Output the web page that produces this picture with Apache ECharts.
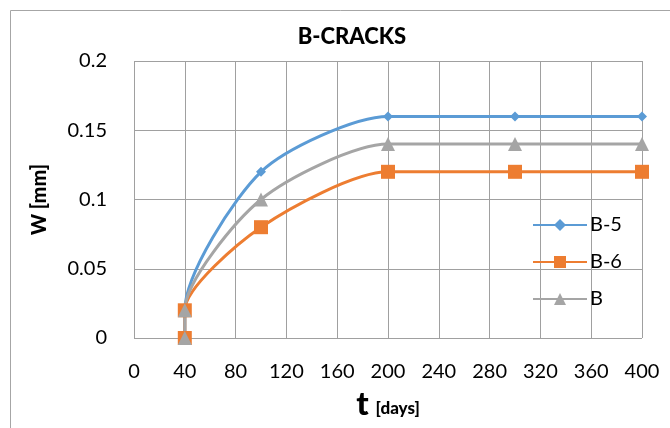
<!DOCTYPE html>
<html><head><meta charset="utf-8">
<script src="https://cdn.jsdelivr.net/npm/echarts@6/dist/echarts.min.js"></script>
<style>html,body{margin:0;padding:0;background:#fff}#c{width:670px;height:428px}</style>
</head><body><div id="c"></div>
<script>
const tDays = [40, 40, 100, 200, 300, 400];
const b5 = [0, 0.02, 0.12, 0.16, 0.16, 0.16];
const b6 = [0, 0.02, 0.08, 0.12, 0.12, 0.12];
const bB = [0, 0.02, 0.10, 0.14, 0.14, 0.14];
const seriesNames = ['B-5', 'B-6', 'B'];
const titleText = 'B-CRACKS';

const font = 'Lato';
const chart = echarts.init(document.getElementById('c'));
function pts(v){ return tDays.map((t,i)=>[t,v[i]]); }
const colors = ['#5b9bd5', '#ed7d31', '#a5a5a5'];
const symbols = ['diamond', 'rect', 'triangle'];
const sizes = [10, 14, 14];
const vals = [b5, b6, bB];
const gridColor = '#a0a0a0';
chart.setOption({
  animation: false,
  graphic: [{type:'rect', shape:{x:10.5,y:10.5,width:700,height:440}, style:{fill:'none', stroke:'#a6a6a6', lineWidth:1}}],
  title: {text: titleText, left: 347, top: 21, textAlign:'center',
    textStyle:{fontFamily:font, fontWeight:900, fontSize:22, color:'#000'}},
  legend: {orient:'vertical', left: 527, top: 210, itemGap: 17, itemWidth: 54, itemHeight: 15,
    data: seriesNames, textStyle:{fontFamily:font, fontSize:20, color:'#000', padding:[0,0,0,-2]}},
  grid: {left: 134, right: 28, top: 61, bottom: 90, containLabel:false},
  xAxis: {type:'value', min:0, max:400, interval:40,
    name:'{t|t}{d|[days]}', nameLocation:'middle', nameGap: 50,
    nameTextStyle:{rich:{t:{fontFamily:font, fontWeight:900, fontSize:33, color:'#000'}, d:{fontFamily:font, fontWeight:900, fontSize:17, color:'#000', padding:[8,0,0,7]}}},
    axisLine:{show:false}, axisTick:{show:false},
    axisLabel:{fontFamily:font, fontSize:20, color:'#000', margin:24},
    splitLine:{show:true, lineStyle:{color:gridColor, width:1}}},
  yAxis: {type:'value', min:0, max:0.2, interval:0.05,
    name:'W [mm]', nameLocation:'middle', nameGap: 84, nameRotate: 90,
    nameTextStyle:{fontFamily:font, fontWeight:900, fontSize:20, color:'#000'},
    axisLine:{show:false}, axisTick:{show:false},
    axisLabel:{fontFamily:font, fontSize:20, color:'#000', margin:27,
      formatter: v => String(+v.toFixed(2))},
    splitLine:{show:true, lineStyle:{color:gridColor, width:1}}},
  series: seriesNames.map((n,i)=>({
    name:n, type:'line', smooth:0.25, data: pts(vals[i]),
    symbol: symbols[i], symbolSize: sizes[i], showAllSymbol:true,
    lineStyle:{color:colors[i], width:3}, itemStyle:{color:colors[i]}
  }))
});
</script></body></html>
